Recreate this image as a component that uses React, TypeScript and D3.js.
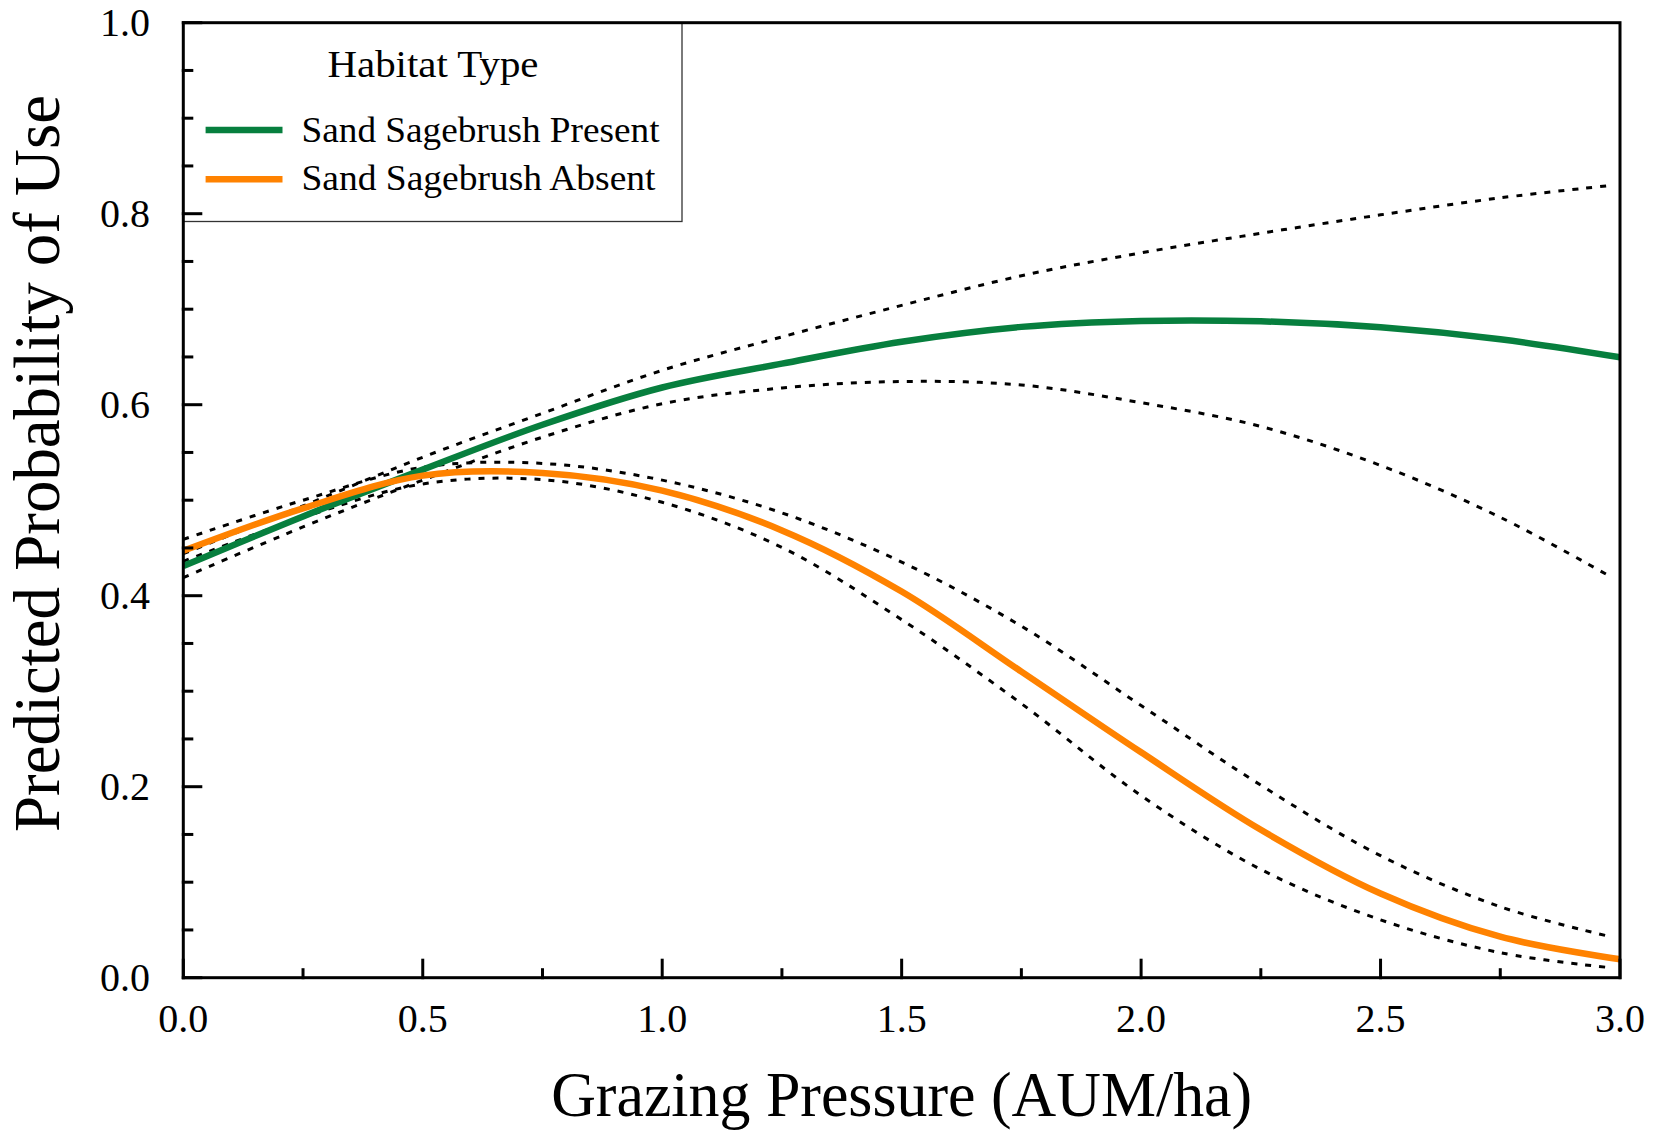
import React from "react";
import * as d3 from "d3";

// ---- Data ----
const grazing = [0, 0.25, 0.5, 0.75, 1.0, 1.25, 1.5, 1.75, 2.0, 2.25, 2.5, 2.75, 3.0];
const ciGrazing = [0, 0.25, 0.5, 0.75, 1.0, 1.25, 1.5, 1.75, 2.0, 2.25, 2.5, 2.75, 2.98];

const presentMean = [0.431, 0.483, 0.532, 0.579, 0.618, 0.643, 0.666, 0.6815, 0.6877, 0.6873, 0.681, 0.6685, 0.6496];
const presentUpper = [0.444, 0.494, 0.545, 0.591, 0.636, 0.671, 0.704, 0.735, 0.759, 0.7795, 0.7988, 0.8166, 0.8295];
const presentLower = [0.419, 0.472, 0.521, 0.566, 0.601, 0.6175, 0.6243, 0.6206, 0.6021, 0.5772, 0.5364, 0.4821, 0.42];

const absentMean = [0.447, 0.4915, 0.5257, 0.5285, 0.51, 0.4684, 0.4044, 0.3205, 0.236, 0.1549, 0.0882, 0.0429, 0.0193];
const absentUpper = [0.459, 0.5, 0.5345, 0.5385, 0.521, 0.4867, 0.4352, 0.3681, 0.285, 0.2016, 0.1278, 0.0743, 0.043];
const absentLower = [0.436, 0.482, 0.517, 0.5215, 0.4978, 0.4505, 0.3749, 0.287, 0.1907, 0.1134, 0.0606, 0.0262, 0.0105];

const xMajorTicks = [0, 0.5, 1.0, 1.5, 2.0, 2.5, 3.0];
const xMinorTicks = [0.25, 0.75, 1.25, 1.75, 2.25, 2.75];
const yMajorTicks = [0, 0.2, 0.4, 0.6, 0.8, 1.0];
const yMinorTicks = [0.05, 0.1, 0.15, 0.25, 0.3, 0.35, 0.45, 0.5, 0.55, 0.65, 0.7, 0.75, 0.85, 0.9, 0.95];

const legendTitle = "Habitat Type";
const seriesNames = ["Sand Sagebrush Present", "Sand Sagebrush Absent"];
const xTitle = "Grazing Pressure (AUM/ha)";
const yTitle = "Predicted Probability of Use";

const GREEN = "#077f3e";
const ORANGE = "#ff8200";
const FONT = "'Liberation Serif', 'Times New Roman', Times, serif";

export default function App() {
  const W = 1653, H = 1131;
  const left = 183.3, right = 1620, top = 22.7, bottom = 977.7;

  const x = d3.scaleLinear().domain([0, 3]).range([left, right]);
  const y = d3.scaleLinear().domain([0, 1]).range([bottom, top]);

  const line = d3
    .line<[number, number]>()
    .x((d) => x(d[0]))
    .y((d) => y(d[1]))
    .curve(d3.curveCatmullRom.alpha(0.5));

  const pts = (xs: number[], ys: number[]) => xs.map((v, i) => [v, ys[i]] as [number, number]);

  const dash = { stroke: "#000", strokeWidth: 3, strokeDasharray: "6 8", fill: "none" };

  return (
    <svg
      width={W}
      height={H}
      viewBox={`0 0 ${W} ${H}`}
      style={{ position: "absolute", left: 0, top: 0, background: "#fff" }}
      fontFamily={FONT}
    >
      <rect x={0} y={0} width={W} height={H} fill="#fff" />

      {/* Legend */}
      <g>
        <rect x={left} y={top} width={682 - left} height={221.5 - top} fill="#fff" stroke="#333" strokeWidth={1.3} />
        <text x={433} y={77} fontSize={38} textAnchor="middle" fill="#000" textLength={211} lengthAdjust="spacingAndGlyphs">
          {legendTitle}
        </text>
        <line x1={205.6} x2={282.5} y1={130} y2={130} stroke={GREEN} strokeWidth={6.5} />
        <line x1={205.6} x2={282.5} y1={179.3} y2={179.3} stroke={ORANGE} strokeWidth={6.5} />
        <text x={301.5} y={141.7} fontSize={35} fill="#000" textLength={358} lengthAdjust="spacingAndGlyphs">
          {seriesNames[0]}
        </text>
        <text x={301.5} y={190} fontSize={35} fill="#000" textLength={354} lengthAdjust="spacingAndGlyphs">
          {seriesNames[1]}
        </text>
      </g>

      {/* Confidence bands (dotted) */}
      <path d={line(pts(ciGrazing, presentUpper)) || ""} {...dash} />
      <path d={line(pts(ciGrazing, presentLower)) || ""} {...dash} />
      <path d={line(pts(ciGrazing, absentUpper)) || ""} {...dash} />
      <path d={line(pts(ciGrazing, absentLower)) || ""} {...dash} />

      {/* Mean curves */}
      <path d={line(pts(grazing, presentMean)) || ""} stroke={GREEN} strokeWidth={6.5} fill="none" />
      <path d={line(pts(grazing, absentMean)) || ""} stroke={ORANGE} strokeWidth={6.5} fill="none" />

      {/* Frame */}
      <rect x={left} y={top} width={right - left} height={bottom - top} fill="none" stroke="#000" strokeWidth={3} />

      {/* Y ticks */}
      {yMajorTicks.map((t) => (
        <g key={"ym" + t}>
          <line x1={left - 1.5} x2={left + 19} y1={y(t)} y2={y(t)} stroke="#000" strokeWidth={3} />
          <text x={150} y={y(t) + 13.5} fontSize={40} textAnchor="end" fill="#000">
            {t.toFixed(1)}
          </text>
        </g>
      ))}
      {yMinorTicks.map((t) => (
        <line key={"yn" + t} x1={left - 1.5} x2={left + 10} y1={y(t)} y2={y(t)} stroke="#000" strokeWidth={3} />
      ))}

      {/* X ticks */}
      {xMajorTicks.map((t) => (
        <g key={"xm" + t}>
          <line x1={x(t)} x2={x(t)} y1={bottom + 1.5} y2={bottom - 19} stroke="#000" strokeWidth={3} />
          <text x={x(t)} y={1031.7} fontSize={40} textAnchor="middle" fill="#000">
            {t.toFixed(1)}
          </text>
        </g>
      ))}
      {xMinorTicks.map((t) => (
        <line key={"xn" + t} x1={x(t)} x2={x(t)} y1={bottom + 1.5} y2={bottom - 9.5} stroke="#000" strokeWidth={3} />
      ))}

      {/* Axis titles */}
      <text x={(left + right) / 2} y={1116} fontSize={63} textAnchor="middle" fill="#000" textLength={701} lengthAdjust="spacingAndGlyphs">
        {xTitle}
      </text>
      <text
        transform="translate(59,463.5) rotate(-90)"
        fontSize={66}
        textAnchor="middle"
        fill="#000"
        textLength={737}
        lengthAdjust="spacingAndGlyphs"
      >
        {yTitle}
      </text>
    </svg>
  );
}
